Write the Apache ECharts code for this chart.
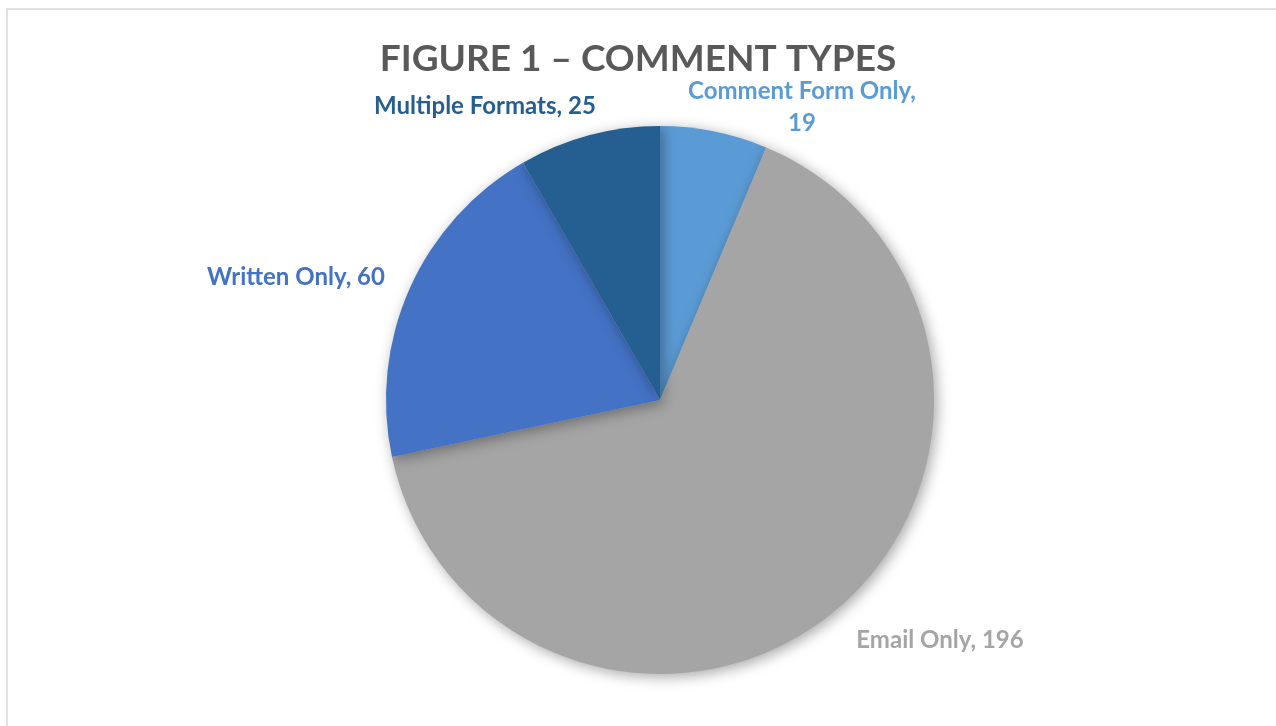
<!DOCTYPE html>
<html>
<head>
<meta charset="utf-8">
<script src="https://cdn.jsdelivr.net/npm/echarts@6/dist/echarts.min.js"></script>
<style>html,body{margin:0;padding:0;background:#fff;}#chart{width:1276px;height:726px;}</style>
</head>
<body>
<div id="chart"></div>
<script>
const categories = ['Comment Form Only', 'Email Only', 'Written Only', 'Multiple Formats'];
const values = [19, 196, 60, 25];
const colors = ['#5B9BD5', '#A5A5A5', '#4472C4', '#255E91'];
const labelTexts = ['Comment Form Only,\n19', 'Email Only, 196', 'Written Only, 60', 'Multiple Formats, 25'];

// label anchor points (layout only, Excel "best fit" placement)
const labelAnchors = [[802, 107], [940, 640], [296, 277], [485, 106]];

const chart = echarts.init(document.getElementById('chart'));
chart.setOption({
  animation: false,
  backgroundColor: '#fff',
  title: {
    text: 'FIGURE 1 – COMMENT TYPES',
    left: 'center',
    top: 36,
    textStyle: { fontFamily: 'Lato', fontWeight: 'bold', fontSize: 37, color: '#595959' }
  },
  graphic: [{
    type: 'rect',
    shape: { x: 7, y: 9, width: 1300, height: 800 },
    style: { fill: 'none', stroke: '#D9D9D9', lineWidth: 1.5 },
    silent: true
  }],
  series: [{
    type: 'pie',
    center: [660, 400],
    radius: 274,
    startAngle: 90,
    clockwise: true,
    data: categories.map((c, i) => ({
      name: c,
      value: values[i],
      itemStyle: { color: colors[i] },
      label: { color: colors[i], formatter: labelTexts[i] }
    })),
    itemStyle: {
      shadowBlur: 14,
      shadowColor: 'rgba(0,0,0,0.35)',
      shadowOffsetX: 3,
      shadowOffsetY: 3
    },
    label: {
      show: true,
      position: 'outside',
      fontFamily: 'Lato',
      fontWeight: 'bold',
      fontSize: 24,
      lineHeight: 32
    },
    labelLine: { show: false },
    labelLayout: function (params) {
      const p = labelAnchors[params.dataIndex];
      return { x: p[0], y: p[1], align: 'center', verticalAlign: 'middle' };
    }
  }]
});
</script>
</body>
</html>
